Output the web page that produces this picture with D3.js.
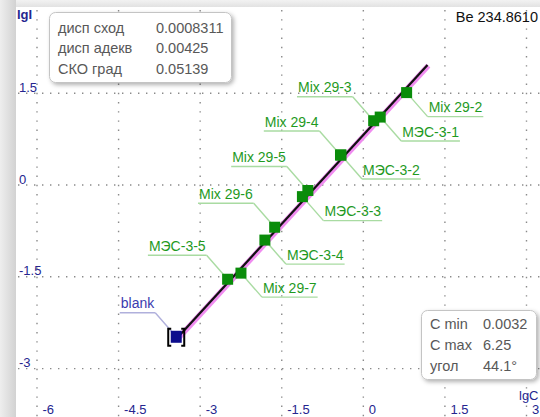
<!DOCTYPE html>
<html>
<head>
<meta charset="utf-8">
<script src="https://cdn.jsdelivr.net/npm/d3@7"></script>
<style>
  html, body { margin: 0; padding: 0; background: #fff; }
  svg { display: block; font-family: "Liberation Sans", Arial, sans-serif; }
</style>
</head>
<body>
<svg id="chart" width="540" height="417"></svg>
<script>
// Calibration samples: name, lg(concentration), lg(intensity)
const sampleNames = ["Mix 29-2", "МЭС-3-1", "Mix 29-3", "Mix 29-4", "МЭС-3-2", "Mix 29-5",
                     "МЭС-3-3", "Mix 29-6", "МЭС-3-4", "Mix 29-7", "МЭС-3-5"];
const sampleLgC = [0.796, 0.31, 0.19, -0.42, -0.41, -1.02, -1.12, -1.63, -1.81, -2.25, -2.495];
const sampleLgI = [1.51, 1.11, 1.05, 0.49, 0.49, -0.09, -0.19, -0.69, -0.90, -1.44, -1.54];
const labelSide = ["right", "right", "left", "left", "right", "left", "right", "left", "right", "right", "left"];

// Blank measurement
const blankName = "blank";
const blankLgC = -3.44;
const blankLgI = -2.48;

// Calibration line: slope given by its angle, plus intercept and lgC extent
const fitAngleDeg = 44.1;
const fitIntercept = 0.818;
const fitRange = [-3.44, 1.18];

// Axis ticks
const xTicks = [-6, -4.5, -3, -1.5, 0, 1.5, 3];
const yTicks = [1.5, 0, -1.5, -3];

// Statistic panels
const statsTopLabels = ["дисп сход", "дисп адекв", "СКО град"];
const statsTopValues = ["0.0008311", "0.00425", "0.05139"];
const statsBottomLabels = ["C min", "C max", "угол"];
const statsBottomValues = ["0.0032", "6.25", "44.1°"];
const elementTitle = "Be 234.8610";
const xAxisTitle = "lgC";
const yAxisTitle = "lgI";

const W = 540, H = 417;
const plotLeft = 16, plotTop = 7;

const svg = d3.select("#chart");
const defs = svg.append("defs");

// frame shading on the left and top edges
const gLeft = defs.append("linearGradient").attr("id", "edgeLeft").attr("x1", 0).attr("x2", 1).attr("y1", 0).attr("y2", 0);
gLeft.append("stop").attr("offset", "0%").attr("stop-color", "#eeeeee");
gLeft.append("stop").attr("offset", "100%").attr("stop-color", "#d2d2d2");
const gTop = defs.append("linearGradient").attr("id", "edgeTop").attr("x1", 0).attr("x2", 0).attr("y1", 0).attr("y2", 1);
gTop.append("stop").attr("offset", "0%").attr("stop-color", "#f2f2f2");
gTop.append("stop").attr("offset", "100%").attr("stop-color", "#e2e2e2");

const shadow = defs.append("filter").attr("id", "boxShadow")
  .attr("x", "-10%").attr("y", "-10%").attr("width", "130%").attr("height", "140%");
shadow.append("feDropShadow").attr("dx", 2).attr("dy", 2).attr("stdDeviation", 2)
  .attr("flood-color", "#000").attr("flood-opacity", 0.3);

svg.append("rect").attr("width", W).attr("height", H).attr("fill", "#fff");
svg.append("rect").attr("x", 0).attr("y", 0).attr("width", W).attr("height", plotTop).attr("fill", "url(#edgeTop)");
svg.append("rect").attr("x", 0).attr("y", 0).attr("width", plotLeft).attr("height", H).attr("fill", "url(#edgeLeft)");

// scales
const x = d3.scaleLinear().domain([-6, 3]).range([37, 526.5]);
const y = d3.scaleLinear().domain([1.5, -3]).range([93.2, 368.6]);

// dotted grid
const grid = svg.append("g");
grid.selectAll("line.v").data(xTicks).join("line")
  .attr("x1", d => x(d)).attr("x2", d => x(d))
  .attr("y1", plotTop + 3).attr("y2", H)
  .attr("stroke", "#8a8a8a").attr("stroke-width", 1.4)
  .attr("stroke-dasharray", "1.4,7.8");
grid.selectAll("line.h").data(yTicks).join("line")
  .attr("x1", plotLeft + 2).attr("x2", W)
  .attr("y1", d => y(d)).attr("y2", d => y(d))
  .attr("stroke", "#8a8a8a").attr("stroke-width", 1.4)
  .attr("stroke-dasharray", "1.4,6.6");

const axisColor = "#25258f";
const fmt = v => String(v);

// x axis labels
const xAxis = svg.append("g").attr("transform", "translate(0,414)")
  .call(d3.axisBottom(x).tickValues(xTicks).tickSize(0).tickFormat(fmt));
xAxis.select(".domain").remove();
xAxis.selectAll("text")
  .attr("x", 5).attr("y", 0).attr("dy", 0)
  .attr("text-anchor", "start")
  .attr("fill", axisColor).attr("font-size", 13)
  .attr("font-family", "'Liberation Sans', Arial, sans-serif");

// y axis labels
const yAxis = svg.append("g").attr("transform", "translate(19,0)")
  .call(d3.axisLeft(y).tickValues(yTicks).tickSize(0).tickFormat(fmt));
yAxis.select(".domain").remove();
yAxis.selectAll("text")
  .attr("x", 0).attr("y", -2).attr("dy", 0)
  .attr("text-anchor", "start")
  .attr("fill", axisColor).attr("font-size", 13)
  .attr("font-family", "'Liberation Sans', Arial, sans-serif");

svg.append("text").attr("x", 17).attr("y", 19).text(yAxisTitle)
  .attr("fill", axisColor).attr("font-size", 13).attr("font-weight", "bold");
svg.append("text").attr("x", 519).attr("y", 400).text(xAxisTitle)
  .attr("fill", axisColor).attr("font-size", 13);

svg.append("text").attr("x", 538).attr("y", 22).attr("text-anchor", "end")
  .text(elementTitle).attr("fill", "#111").attr("font-size", 14.5);

// statistic panels
function statsPanel(bx, by, bw, bh, labels, values, labelX, valueX, base, step) {
  const g = svg.append("g");
  g.append("rect").attr("x", bx).attr("y", by).attr("width", bw).attr("height", bh)
    .attr("rx", 6).attr("fill", "#fff").attr("stroke", "#c4c4c4").attr("stroke-width", 1)
    .attr("filter", "url(#boxShadow)");
  labels.forEach((t, i) => {
    g.append("text").attr("x", labelX).attr("y", base + i * step).text(t)
      .attr("fill", "#585858").attr("font-size", 14.5);
    g.append("text").attr("x", valueX).attr("y", base + i * step).text(values[i])
      .attr("fill", "#585858").attr("font-size", 14.5);
  });
}
statsPanel(49.5, 12.5, 182, 70, statsTopLabels, statsTopValues, 58, 156, 32.5, 20.5);
statsPanel(421.5, 310.5, 115, 69, statsBottomLabels, statsBottomValues, 430, 483, 328.5, 21);

// calibration line with its halo
const slope = Math.tan(fitAngleDeg * Math.PI / 180);
const fitPts = fitRange.map(c => [x(c), y(fitIntercept + slope * c)]);
const lineGen = d3.line();
svg.append("path").attr("d", lineGen(fitPts))
  .attr("stroke", "#f08cf0").attr("stroke-width", 5.5).attr("fill", "none")
  .attr("transform", "translate(0.8,0.6)");
svg.append("path").attr("d", lineGen(fitPts))
  .attr("stroke", "#111").attr("stroke-width", 2.2).attr("fill", "none");

// label helper: leader + underline + text
const offX = 21, offY = 24;
function callout(px, py, name, side, textColor, lineColor) {
  const g = svg.append("g");
  const t = g.append("text").text(name).attr("font-size", 14).attr("fill", textColor);
  const w = t.node().getComputedTextLength();
  let ux, uy, x1, x2;
  if (side === "right") {
    ux = px + offX; uy = py + offY; x1 = ux; x2 = ux + w + 2;
  } else {
    ux = px - offX; uy = py - offY; x1 = ux - w - 2; x2 = ux;
  }
  t.attr("x", x1 + 1).attr("y", uy - 4.5);
  g.insert("line", "text").attr("x1", px).attr("y1", py).attr("x2", ux).attr("y2", uy)
    .attr("stroke", lineColor).attr("stroke-width", 1.4);
  g.insert("line", "text").attr("x1", x1).attr("y1", uy).attr("x2", x2).attr("y2", uy)
    .attr("stroke", lineColor).attr("stroke-width", 1.4);
}

sampleNames.forEach((n, i) => {
  callout(x(sampleLgC[i]), y(sampleLgI[i]), n, labelSide[i], "#1f9a1f", "#a9dba2");
});
callout(x(blankLgC), y(blankLgI), blankName, "left", "#3b3bb0", "#b0b0dc");

// sample markers
const sq = 11;
svg.append("g").selectAll("rect").data(sampleNames.map((n, i) => i)).join("rect")
  .attr("x", i => x(sampleLgC[i]) - sq / 2)
  .attr("y", i => y(sampleLgI[i]) - sq / 2)
  .attr("width", sq).attr("height", sq)
  .attr("fill", "#0a8c0a");

// blank marker with brackets
const bx = x(blankLgC), by = y(blankLgI);
svg.append("rect").attr("x", bx - 5.5).attr("y", by - 6).attr("width", 11).attr("height", 12)
  .attr("fill", "#0c0c8c");
const br = svg.append("g").attr("stroke", "#000").attr("stroke-width", 2).attr("fill", "none");
br.append("path").attr("d", `M${bx - 5},${by - 8} H${bx - 8} V${by + 9} H${bx - 5}`);
br.append("path").attr("d", `M${bx + 5},${by - 8} H${bx + 8} V${by + 9} H${bx + 5}`);
</script>
</body>
</html>
